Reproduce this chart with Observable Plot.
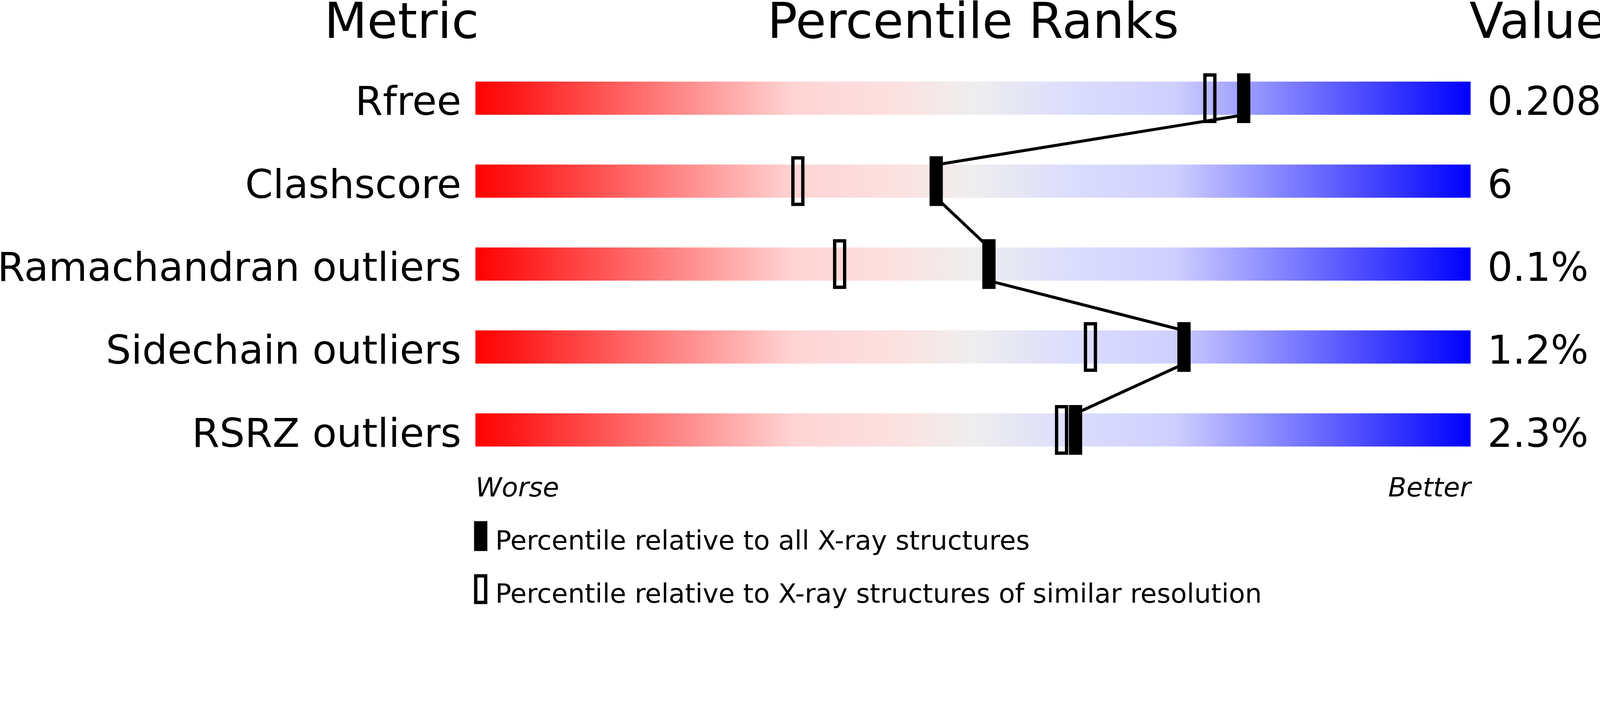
<!DOCTYPE html>
<html>
<head>
<meta charset="utf-8">
<script src="https://cdn.jsdelivr.net/npm/d3@7"></script>
<script src="https://cdn.jsdelivr.net/npm/@observablehq/plot@0.6"></script>
<style>
  html, body { margin: 0; padding: 0; background: #ffffff; overflow: hidden; }
  svg { display: block; }
</style>
</head>
<body>
<div id="chart"></div>
<script>
// ---- data ----
const metrics = ["Rfree", "Clashscore", "Ramachandran outliers", "Sidechain outliers", "RSRZ outliers"];
const metricValues = ["0.208", "6", "0.1%", "1.2%", "2.3%"];
const percentileAll = [77.2, 46.3, 51.6, 71.2, 60.3];        // vs all X-ray structures
const percentileSimilar = [73.8, 32.4, 36.6, 61.8, 58.9];    // vs similar resolution
const headers = ["Metric", "Percentile Ranks", "Value"];
const scaleEnds = ["Worse", "Better"];
const legendLabels = [
  "Percentile relative to all X-ray structures",
  "Percentile relative to X-ray structures of similar resolution"
];

// ---- layout ----
const W = 4823, H = 1833;
const barLeft = 1433, barRight = 4433;
const firstRowY = 296, rowStep = 250;
const barH = 100, markW = 40, markH = 150, openStroke = 10;
const n = metrics.length;
const half = barH / 2 / rowStep;
const FONT = "DejaVu Sans";

const rows = metrics.map((name, i) => ({
  i, name, value: metricValues[i], all: percentileAll[i], similar: percentileSimilar[i]
}));
const links = rows.slice(0, -1).map((d, k) => ({
  x1: d.all, y1: d.i + half, x2: rows[k + 1].all, y2: rows[k + 1].i - half
}));
const headerRows = headers.map((t, k) => ({
  text: t, x: [0, 50, 100][k], anchor: ["end", "middle", "start"][k], dx: [10, 0, -4][k]
}));
const endRows = scaleEnds.map((t, k) => ({ text: t, x: k === 0 ? 0 : 100, anchor: k === 0 ? "start" : "end" }));

const gradientDefs = () => {
  const defs = d3.create("svg:defs");
  const g = defs.append("linearGradient").attr("id", "slider-grad")
    .attr("x1", "0").attr("x2", "1").attr("y1", "0").attr("y2", "0");
  [[0, "#ff0000"], [0.32, "#ffd4d4"], [0.42, "#fde0e0"], [0.5, "#eeeeee"],
   [0.6, "#dcdcfe"], [0.7, "#d0d0ff"], [1, "#0000ff"]]
    .forEach(([o, c]) => g.append("stop").attr("offset", o).attr("stop-color", c));
  return defs.node();
};

// legend (key) drawn inside the same SVG, below the sliders
const legendMark = () => {
  const g = d3.create("svg:g").attr("aria-label", "legend")
    .attr("font-family", FONT).attr("text-anchor", "start");
  const swX = 1429, swW = 40, swH = 90, textX = 1493;
  const tops = [1571, 1731];
  legendLabels.forEach((label, k) => {
    const top = tops[k];
    if (k === 0) {
      g.append("rect").attr("x", swX).attr("y", top).attr("width", swW).attr("height", swH).attr("fill", "#000");
    } else {
      g.append("rect").attr("x", swX + openStroke / 2).attr("y", top + openStroke / 2)
        .attr("width", swW - openStroke).attr("height", swH - openStroke)
        .attr("fill", "none").attr("stroke", "#000").attr("stroke-width", openStroke);
    }
    g.append("text").attr("x", textX).attr("y", top + 85.7)
      .attr("text-anchor", "start")
      .attr("font-size", 80).attr("fill", "#000").text(label);
  });
  return g.node();
};

const chart = Plot.plot({
  width: W,
  height: H,
  margin: 0,
  style: { fontFamily: FONT, background: "#ffffff", color: "#000000" },
  x: { domain: [0, 100], range: [barLeft, barRight], axis: null },
  y: { domain: [0, n - 1], range: [firstRowY, firstRowY + rowStep * (n - 1)], axis: null },
  marks: [
    gradientDefs,
    // slider bars
    Plot.rect(rows, {
      x1: 0, x2: 100, y1: "i", y2: "i",
      insetTop: -barH / 2, insetBottom: -barH / 2,
      fill: "url(#slider-grad)"
    }),
    // connecting line through the "all structures" markers
    Plot.link(links, { x1: "x1", y1: "y1", x2: "x2", y2: "y2", stroke: "#000000", strokeWidth: 9 }),
    // open markers (similar resolution)
    Plot.rect(rows, {
      x1: "similar", x2: "similar", y1: "i", y2: "i",
      insetLeft: -(markW - openStroke) / 2, insetRight: -(markW - openStroke) / 2,
      insetTop: -(markH - openStroke) / 2, insetBottom: -(markH - openStroke) / 2,
      fill: "none", stroke: "#000000", strokeWidth: openStroke
    }),
    // filled markers (all structures)
    Plot.rect(rows, {
      x1: "all", x2: "all", y1: "i", y2: "i",
      insetLeft: -markW / 2, insetRight: -markW / 2,
      insetTop: -markH / 2, insetBottom: -markH / 2,
      fill: "#000000"
    }),
    // metric labels
    Plot.text(rows, {
      x: 0, y: "i", text: "name", textAnchor: "end", lineAnchor: "bottom",
      dx: -43, dy: 50, fontSize: 120, fill: "#000000"
    }),
    // values
    Plot.text(rows, {
      x: 100, y: "i", text: "value", textAnchor: "start", lineAnchor: "bottom",
      dx: 50, dy: 50, fontSize: 120, fill: "#000000"
    }),
    // column headers
    ...headerRows.map(h => Plot.text([h], {
      x: "x", text: "text", frameAnchor: "top", textAnchor: h.anchor, lineAnchor: "bottom",
      dx: h.dx, dy: 113.5, fontSize: 150, fill: "#000000", ariaLabel: "header"
    })),
    // Worse / Better
    ...endRows.map(e => Plot.text([e], {
      x: "x", text: "text", frameAnchor: "top", textAnchor: e.anchor, lineAnchor: "bottom",
      dy: 1496, fontSize: 80, fontStyle: "italic", fill: "#000000"
    })),
    legendMark
  ]
});

// headers are horizontally compressed in the reference
chart.querySelectorAll('g[aria-label="header"] text').forEach(t => {
  t.setAttribute("transform", (t.getAttribute("transform") || "") + " scale(0.94,1)");
});
document.getElementById("chart").appendChild(chart);
</script>
</body>
</html>
